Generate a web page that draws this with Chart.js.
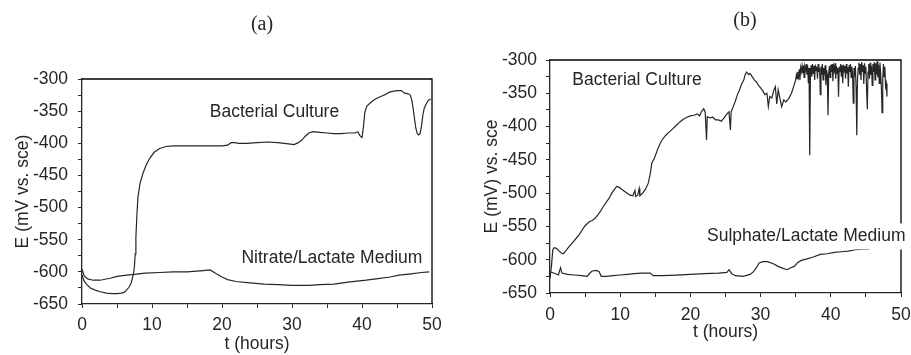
<!DOCTYPE html>
<html>
<head>
<meta charset="utf-8">
<script src="https://cdn.jsdelivr.net/npm/chart.js@4.4.1/dist/chart.umd.min.js"></script>
<style>
  html, body { margin: 0; padding: 0; background: #fff; }
  #wrap { position: relative; width: 911px; height: 355px; overflow: hidden; }
  canvas { position: absolute; top: 0; }
  #chartA { left: 0; }
  #chartB { left: 455px; }
</style>
</head>
<body>
<div id="wrap">
  <canvas id="chartA" width="455" height="355"></canvas>
  <canvas id="chartB" width="456" height="355"></canvas>
</div>
<script>
// (a) nitrate/lactate run
const hoursA1 = [0, 0.3, 0.7, 1.2, 1.8, 2.6, 3.5, 4.3, 5.0, 5.6, 6.0, 6.4, 6.7, 7.0, 7.2, 7.4, 7.5, 7.6, 7.7, 7.85, 8.0, 8.3, 8.7, 9.2, 9.7, 10.3, 11.1, 12, 13, 14.5, 16, 18, 20, 20.8, 21.3, 21.8, 22.4, 23.5, 25, 26.5, 28, 29.5, 30.3, 30.9, 31.4, 31.9, 32.4, 33.0, 34, 35, 36, 37, 38, 39, 39.4, 39.7, 40.0, 40.2, 40.4, 40.7, 41.2, 41.8, 42.5, 43.2, 44, 45, 45.6, 46.1, 46.6, 46.9, 47.1, 47.3, 47.5, 47.7, 47.9, 48.1, 48.3, 48.5, 48.7, 48.9, 49.2, 49.5, 49.8];
const cultureA = [-605, -614, -620, -625, -628, -631, -633, -634, -634, -633, -632, -628, -624, -618, -610, -600, -590, -572, -546, -510, -483, -462, -447, -433, -423, -414, -408, -405, -404, -404, -404, -404, -404, -403, -399, -399, -400, -400, -399, -398, -399, -401, -402, -399, -395, -389, -384, -382, -383, -384, -385, -385, -384, -384, -382, -388, -391, -375, -352, -342, -337, -332, -328, -325, -320, -318, -318, -322, -323, -325, -332, -345, -362, -377, -385, -387, -385, -373, -356, -345, -338, -333, -331];
const hoursA2 = [0, 0.3, 0.8, 1.6, 2.6, 4, 5, 6.4, 7.5, 9, 11.1, 13, 15, 17.3, 18.3, 19.2, 20, 20.8, 22, 24, 26, 28, 30, 32.5, 34, 36, 38, 40.6, 42, 44, 45.3, 47, 48.5, 49.6];
const mediumA = [-596, -606, -611, -613, -613, -610, -607, -605, -604, -602, -601, -600, -600, -598, -597, -603, -608, -612, -615, -617, -619, -620, -621, -621, -620, -619, -616, -613, -611, -608, -605, -603, -601, -600];

// (b) sulphate/lactate run
const hoursB1 = [
  0.0, 0.2, 0.4, 0.6, 0.9, 1.2, 1.6, 1.9, 2.3, 2.6, 3.0, 3.4, 3.8, 4.2, 4.6, 5.0, 5.3, 5.6, 6.0, 6.4,
  6.8, 7.2, 7.6, 8.0, 8.4, 8.8, 9.2, 9.5, 9.8, 10.2, 10.6, 11.0, 11.4, 11.8, 12.1, 12.2, 12.5, 12.7, 12.8, 13.2,
  13.6, 14.0, 14.3, 14.5, 14.9, 15.3, 15.7, 16.1, 16.5, 17.0, 17.5, 18.0, 18.5, 19.0, 19.5, 20.0, 20.5, 21.0, 21.3, 21.6,
  21.9, 22.1, 22.3, 22.4, 22.8, 23.2, 23.6, 24.0, 24.4, 24.8, 25.2, 25.5, 25.7, 25.8, 26.1, 26.4, 26.7, 27.0, 27.3, 27.6,
  27.8, 28.0, 28.3, 28.5, 28.8, 29.1, 29.4, 29.7, 30.0, 30.3, 30.6, 30.9, 31.1, 31.3, 31.6, 31.9, 32.1, 32.3, 32.5, 32.7,
  33.0, 33.3, 33.6, 34.0, 34.4, 34.7,
  35.0, 35.1, 35.2, 35.3, 35.4, 35.5, 35.6, 35.7, 35.8, 35.9, 36.0, 36.1, 36.2, 36.3, 36.4, 36.5, 36.6, 36.7, 36.8, 36.9,
  37.0, 37.1, 37.2, 37.3, 37.4, 37.5, 37.6, 37.7, 37.8, 37.9, 38.0, 38.1, 38.2, 38.3, 38.4, 38.5, 38.6, 38.7, 38.8, 38.9,
  39.0, 39.1, 39.2, 39.3, 39.4, 39.5, 39.6, 39.7, 39.8, 39.9, 40.0, 40.1, 40.2, 40.3, 40.4, 40.5, 40.6, 40.7, 40.8, 40.9,
  41.0, 41.1, 41.2, 41.3, 41.4, 41.5, 41.6, 41.7, 41.8, 41.9, 42.0, 42.1, 42.2, 42.3, 42.4, 42.5, 42.6, 42.7, 42.8, 42.9,
  43.0, 43.1, 43.2, 43.3, 43.4, 43.5, 43.6, 43.7, 43.8, 43.9, 44.0, 44.1, 44.2, 44.3, 44.4, 44.5, 44.6, 44.7, 44.8, 44.9,
  45.0, 45.1, 45.2, 45.3, 45.4, 45.5, 45.6, 45.7, 45.8, 45.9, 46.0, 46.1, 46.2, 46.3, 46.4, 46.5, 46.6, 46.7, 46.8, 46.9,
  47.0, 47.1, 47.2, 47.3, 47.4, 47.5, 47.6, 47.7, 47.8, 47.9, 48.0
];
const cultureB = [
  -628, -610, -585, -582, -583, -586, -590, -591, -586, -582, -577, -572, -567, -562, -555, -549, -546, -543, -541, -538,
  -533, -527, -520, -514, -508, -500, -494, -490, -491, -494, -497, -500, -503, -504, -496, -505, -503, -493, -504, -500,
  -494, -485, -470, -455, -447, -435, -425, -418, -413, -408, -403, -398, -393, -389, -386, -384, -383, -381, -384, -377,
  -373, -378, -420, -385, -387, -386, -390, -390, -392, -387, -381, -378, -405, -378, -370, -362, -352, -345, -336, -330,
  -322, -318, -322, -320, -325, -330, -333, -338, -342, -346, -352, -350, -370, -355, -357, -345, -340, -366, -345, -355,
  -370, -360, -363, -358, -350, -340,
  -330, -322, -328, -318, -325, -314, -330, -312, -318, -309, -320, -308, -326, -310, -315, -306, -322, -308, -335, -312,
  -443, -318, -308, -325, -306, -320, -309, -330, -307, -316, -310, -328, -306, -318, -312, -352, -310, -322, -306, -330,
  -312, -318, -308, -338, -315, -322, -383, -320, -309, -326, -307, -318, -306, -332, -310, -316, -305, -328, -309, -320,
  -312, -355, -310, -318, -306, -325, -308, -335, -307, -318, -309, -328, -306, -320, -311, -340, -308, -318, -306, -326,
  -310, -320, -365, -312, -325, -309, -340, -413, -330, -312, -304, -322, -306, -330, -303, -318, -308, -336, -305, -320,
  -310, -345, -374, -318, -306, -328, -304, -322, -309, -338, -306, -318, -303, -330, -305, -322, -302, -326, -307, -335,
  -304, -320, -340, -379, -330, -306, -325, -310, -340, -335, -355
];
const hoursB2 = [0, 0.5, 1.2, 1.5, 1.7, 2.5, 3.5, 4.5, 5.3, 5.7, 6.0, 6.6, 7.0, 7.3, 8.0, 9, 10, 11, 12, 13, 14.3, 14.7, 16, 18, 20, 22, 24, 25.2, 25.5, 25.9, 26.4, 27.5, 28.5, 29, 29.4, 29.8, 30.3, 31, 31.8, 32.5, 33.2, 33.8, 34.3, 34.8, 35.3, 35.8, 36.5, 37.5, 38.5, 39.5, 40.5, 41.5, 42.5, 43.5, 44.5, 45.5];
const mediumB = [-618, -620, -623, -612, -620, -622, -623, -624, -625, -620, -617, -616, -618, -625, -625, -624, -623, -622, -621, -620, -620, -624, -624, -623, -622, -621, -620, -619, -615, -621, -624, -625, -622, -618, -612, -605, -603, -603, -606, -610, -613, -615, -612, -610, -604, -601, -599, -596, -592, -591, -589, -588, -587, -585, -584, -584];

// tick positions: every 5 h / 25 mV, labelled every 10 h / 50 mV
const xTicks = [0, 5, 10, 15, 20, 25, 30, 35, 40, 45, 50];
const yTicks = [-650, -625, -600, -575, -550, -525, -500, -475, -450, -425, -400, -375, -350, -325, -300];

const INK = "#262626";
const SANS = "'Liberation Sans', Arial, sans-serif";

function pairs(xs, ys) {
  return xs.map((x, i) => ({ x: x, y: ys[i] }));
}

// top/right edges of the box
const framePlugin = {
  id: "frame",
  afterDatasetsDraw(chart) {
    const { ctx, chartArea: a } = chart;
    ctx.save();
    ctx.setLineDash([]);
    ctx.strokeStyle = "#000000";
    ctx.lineWidth = 1.3;
    ctx.beginPath();
    ctx.moveTo(a.left, a.top);
    ctx.lineTo(a.right, a.top);
    ctx.lineTo(a.right, a.bottom);
    ctx.stroke();
    ctx.restore();
  },
};

// panel caption and curve labels
const textPlugin = {
  id: "notes",
  afterDraw(chart, args, opts) {
    const { ctx, scales } = chart;
    ctx.save();
    ctx.textAlign = "center";
    ctx.textBaseline = "middle";
    ctx.fillStyle = INK;
    ctx.font = "20px 'Liberation Serif', 'Times New Roman', serif";
    ctx.fillText(opts.caption, opts.captionX, opts.captionY);
    ctx.font = "17.5px " + SANS;
    opts.labels.forEach((l) => {
      const px = scales.x.getPixelForValue(l.x);
      const py = scales.y.getPixelForValue(l.y);
      if (l.clear) {
        const w = ctx.measureText(l.text).width;
        ctx.fillStyle = "#fff";
        ctx.fillRect(px - w / 2 - 3, py - 13, w + 6, 26);
        ctx.fillStyle = INK;
      }
      ctx.fillText(l.text, px, py);
    });
    ctx.restore();
  },
};

function makeChart(id, cfg) {
  return new Chart(document.getElementById(id), {
    type: "line",
    data: {
      datasets: cfg.series.map((s) => ({
        data: s,
        borderColor: INK,
        borderWidth: 1.2,
        pointRadius: 0,
        tension: 0,
        fill: false,
      })),
    },
    options: {
      responsive: false,
      animation: false,
      devicePixelRatio: 1,
      layout: { padding: cfg.padding },
      plugins: {
        legend: { display: false },
        tooltip: { enabled: false },
        notes: cfg.notes,
      },
      scales: {
        x: {
          type: "linear",
          min: 0,
          max: 50,
          afterFit: (s) => {
            s.height = cfg.xHeight;
            s.paddingLeft = 0;
            s.paddingRight = 0;
          },
          afterBuildTicks: (s) => { s.ticks = xTicks.map((v) => ({ value: v })); },
          border: { display: true, color: INK, width: 1.3 },
          grid: { display: true, drawOnChartArea: false, drawTicks: true, tickLength: 4, color: INK, lineWidth: 1 },
          ticks: {
            color: INK, padding: cfg.xPad, font: { family: SANS, size: 17.5 }, maxRotation: 0, autoSkip: false,
            callback: (v) => (v % 10 === 0 ? String(v) : ""),
          },
          title: { display: true, text: "t (hours)", color: INK, font: { family: SANS, size: 17.5 }, padding: { top: 0, bottom: cfg.xTitlePad } },
        },
        y: {
          min: -650,
          max: -300,
          afterFit: (s) => { s.width = cfg.yWidth; },
          afterBuildTicks: (s) => { s.ticks = yTicks.map((v) => ({ value: v })); },
          border: { display: true, color: INK, width: 1.3 },
          grid: { display: true, drawOnChartArea: false, drawTicks: true, tickLength: 4, color: INK, lineWidth: 1 },
          ticks: {
            color: INK, padding: cfg.yPad, font: { family: SANS, size: 17.5 }, autoSkip: false,
            callback: (v) => (v % 50 === 0 ? String(v) : ""),
          },
          title: { display: true, text: cfg.yTitle, color: INK, font: { family: SANS, size: 17.5 }, padding: { top: cfg.yTitlePad, bottom: 0 } },
        },
      },
    },
    plugins: [framePlugin, textPlugin],
  });
}

makeChart("chartA", {
  series: [pairs(hoursA1, cultureA), pairs(hoursA2, mediumA)],
  padding: { top: 79, right: 23, left: 0, bottom: 0 },
  xHeight: 51, xPad: 7, xTitlePad: 0,
  yWidth: 82, yPad: 10, yTitlePad: 13,
  yTitle: "E (mV vs. sce)",
  notes: {
    caption: "(a)", captionX: 262, captionY: 25,
    labels: [
      { text: "Bacterial Culture", x: 27.5, y: -351 },
      { text: "Nitrate/Lactate Medium", x: 35.7, y: -578 },
    ],
  },
});

makeChart("chartB", {
  series: [pairs(hoursB1, cultureB), pairs(hoursB2, mediumB)],
  padding: { top: 60, right: 10, left: 0, bottom: 0 },
  xHeight: 62, xPad: 8, xTitlePad: 12,
  yWidth: 95, yPad: 9, yTitlePad: 27,
  yTitle: "E (mV) vs. sce",
  notes: {
    caption: "(b)", captionX: 290, captionY: 21,
    labels: [
      { text: "Bacterial Culture", x: 12.4, y: -330 },
      { text: "Sulphate/Lactate Medium", x: 36.5, y: -565, clear: true },
    ],
  },
});
</script>
</body>
</html>
